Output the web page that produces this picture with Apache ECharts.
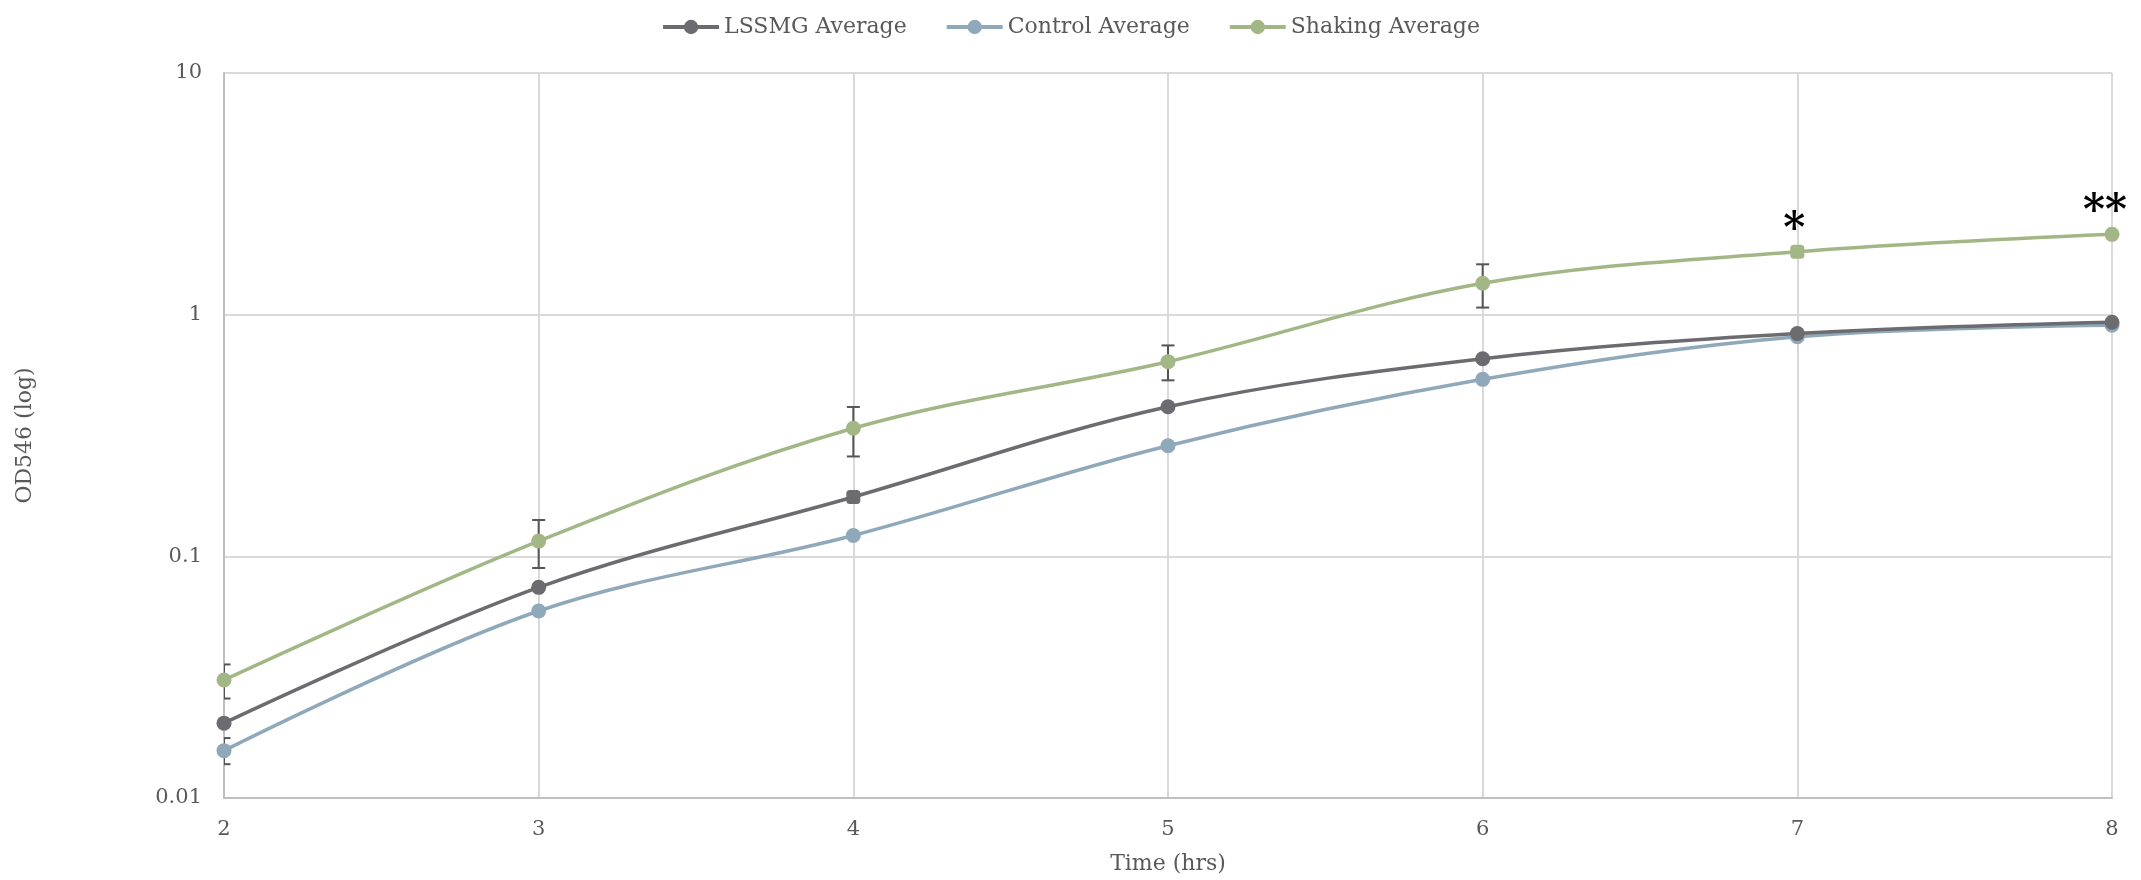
<!DOCTYPE html>
<html>
<head>
<meta charset="utf-8">
<script src="https://cdn.jsdelivr.net/npm/echarts@6/dist/echarts.min.js"></script>
<style>
  html, body { margin: 0; padding: 0; background: #fff; }
  #chart { width: 2141px; height: 880px; }
</style>
</head>
<body>
<div id="chart"></div>
<script>
// values
const time = [2, 3, 4, 5, 6, 7, 8];
const lssmg = [0.0204, 0.0744, 0.176, 0.416, 0.657, 0.835, 0.93];
const control = [0.0157, 0.0594, 0.122, 0.287, 0.54, 0.81, 0.905];
const shaking = [0.0308, 0.1156, 0.339, 0.639, 1.349, 1.82, 2.15];

// error bars (low / high)
const shakingErrX = [2, 3, 4, 5, 6];
const shakingLow = [0.0258, 0.0895, 0.259, 0.535, 1.07];
const shakingHigh = [0.0357, 0.1414, 0.415, 0.746, 1.616];
const controlErrX = [2];
const controlLow = [0.0138];
const controlHigh = [0.0177];

// significance marks
const starX = [7, 8];
const starText = ["*", "**"];

const yTicks = [0.01, 0.1, 1, 10];

const FONT = "DejaVu Serif";
const TXT = "#595959";

// some markers are drawn as squares in the original
const squareAt = { lssmg: [4], shaking: [7] };

function pts(ys, key) {
  return time.map((t, i) => {
    const item = { value: [t, ys[i]] };
    if ((squareAt[key] || []).indexOf(t) >= 0) {
      item.symbol = "roundRect";
      item.symbolSize = 14;
    }
    return item;
  });
}

function errData(xs, lo, hi) {
  return xs.map((x, i) => [x, lo[i], hi[i]]);
}

const errorItem = (params, api) => {
  const x = api.value(0);
  const top = api.coord([x, api.value(2)]);
  const bot = api.coord([x, api.value(1)]);
  const w = 6.5;
  const style = { stroke: "#555559", lineWidth: 2 };
  return {
    type: "group",
    children: [
      { type: "line", shape: { x1: top[0], y1: top[1], x2: bot[0], y2: bot[1] }, style },
      { type: "line", shape: { x1: top[0] - w, y1: top[1], x2: top[0] + w, y2: top[1] }, style },
      { type: "line", shape: { x1: bot[0] - w, y1: bot[1], x2: bot[0] + w, y2: bot[1] }, style },
    ],
  };
};

const chart = echarts.init(document.getElementById("chart"));

const lineBase = {
  type: "line",
  smooth: 0.35,
  symbol: "circle",
  symbolSize: 15,
  showAllSymbol: true,
  z: 3,
};

const option = {
  animation: false,
  textStyle: { fontFamily: FONT },
  legend: {
    top: 11,
    left: "center",
    data: ["LSSMG Average", "Control Average", "Shaking Average"],
    itemWidth: 56,
    itemHeight: 18,
    itemGap: 38,
    lineStyle: { width: 4 },
    textStyle: { fontFamily: FONT, fontSize: 22, color: TXT },
  },
  grid: { left: 224, right: 29, top: 73, bottom: 82 },
  xAxis: {
    type: "value",
    min: 2,
    max: 8,
    interval: 1,
    name: "Time (hrs)",
    nameLocation: "middle",
    nameGap: 55,
    nameTextStyle: { fontFamily: FONT, fontSize: 22, color: TXT },
    axisLine: { lineStyle: { color: "#bfbfbf", width: 2 } },
    axisTick: { show: false },
    axisLabel: { fontFamily: FONT, fontSize: 21, color: TXT, margin: 21 },
    splitLine: { show: true, lineStyle: { color: "#d9d9d9", width: 2 } },
  },
  yAxis: {
    type: "log",
    logBase: 10,
    min: yTicks[0],
    max: yTicks[yTicks.length - 1],
    name: "OD546 (log)",
    nameLocation: "middle",
    nameGap: 188,
    nameTextStyle: { fontFamily: FONT, fontSize: 22, color: TXT },
    axisLine: { show: true, lineStyle: { color: "#bfbfbf", width: 2 } },
    axisTick: { show: false },
    axisLabel: {
      fontFamily: FONT,
      fontSize: 21,
      color: TXT,
      margin: 22,
      formatter: (v) => String(yTicks.find((t) => Math.abs(t - v) / t < 1e-6) ?? v),
    },
    splitLine: { show: true, lineStyle: { color: "#d9d9d9", width: 2 } },
  },
  series: [
    {
      name: "shaking-err",
      type: "custom",
      renderItem: errorItem,
      clip: true,
      z: 2,
      data: errData(shakingErrX, shakingLow, shakingHigh),
      encode: { x: 0, y: [1, 2] },
    },
    {
      name: "control-err",
      type: "custom",
      renderItem: errorItem,
      clip: true,
      z: 2,
      data: errData(controlErrX, controlLow, controlHigh),
      encode: { x: 0, y: [1, 2] },
    },
    Object.assign({}, lineBase, {
      name: "Control Average",
      color: "#8fa9ba",
      lineStyle: { width: 3.5, color: "#8fa9ba" },
      data: pts(control, "control"),
    }),
    Object.assign({}, lineBase, {
      name: "LSSMG Average",
      color: "#6c6b70",
      lineStyle: { width: 3.5, color: "#6c6b70" },
      data: pts(lssmg, "lssmg"),
    }),
    Object.assign({}, lineBase, {
      name: "Shaking Average",
      color: "#a3b786",
      lineStyle: { width: 3.5, color: "#a3b786" },
      data: pts(shaking, "shaking"),
      markPoint: {
        symbol: "circle",
        symbolSize: 0,
        silent: true,
        label: {
          show: true,
          position: "inside",
          fontFamily: FONT,
          fontWeight: "bold",
          fontSize: 42,
          color: "#000",
        },
        data: starX.map((x, i) => ({
          coord: [x, shaking[time.indexOf(x)]],
          label: { formatter: starText[i], offset: [i === 0 ? -3 : -7, -21] },
        })),
      },
    }),
  ],
};

chart.setOption(option);
</script>
</body>
</html>
